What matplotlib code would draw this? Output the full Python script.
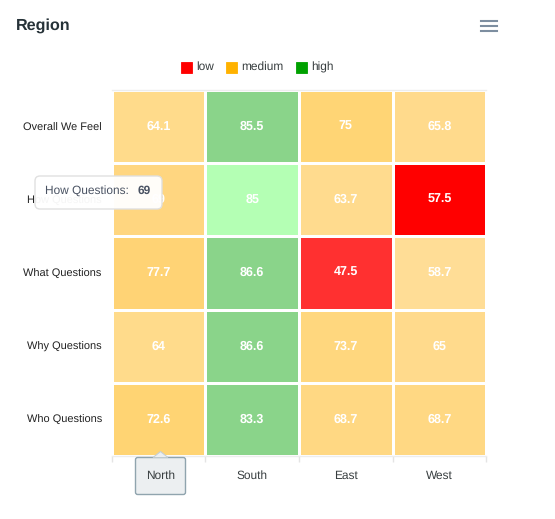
import numpy as np
import matplotlib
matplotlib.use('Agg')
import matplotlib.pyplot as plt
from matplotlib.colors import to_rgb
from matplotlib.lines import Line2D
from matplotlib.patches import FancyBboxPatch, Polygon, Rectangle

W, H = 555, 519

regions = ['North', 'South', 'East', 'West']
questions = ['Overall We Feel', 'How Questions', 'What Questions', 'Why Questions', 'Who Questions']
values = [
    ['64.1', '85.5', '75', '65.8'],
    ['69', '85', '63.7', '57.5'],
    ['77.7', '86.6', '47.5', '58.7'],
    ['64', '86.6', '73.7', '65'],
    ['72.6', '83.3', '68.7', '68.7'],
]
cell_colors = [
    ['#FFDB8B', '#8AD48A', '#FFD575', '#FFDA8C'],
    ['#FFD680', '#B4FFB4', '#FFDB8E', '#FF0000'],
    ['#FFD375', '#8AD48A', '#FF3030', '#FFDD96'],
    ['#FFDB8B', '#8AD48A', '#FFD77E', '#FFDA8C'],
    ['#FFD473', '#8AD48A', '#FFD883', '#FFD883'],
]
legend_names = ['low', 'medium', 'high']
legend_colors = ['#FF0000', '#FFB200', '#00A100']

plt.rcParams['font.family'] = ['Liberation Sans', 'DejaVu Sans']
plt.rcParams['text.hinting'] = 'none'


def fx(x):
    return x / W


def fy(y):
    return 1 - y / H


fig = plt.figure(figsize=(W / 100, H / 100), dpi=100)
ax = fig.add_axes([fx(111.5), fy(456), (486.5 - 111.5) / W, (456 - 90) / H])

rgb = np.array([[to_rgb(c) for c in row] for row in cell_colors])
ax.pcolormesh(np.arange(5), np.arange(6), rgb, edgecolors='white', linewidth=0.9)
ax.set_xlim(0, 4)
ax.set_ylim(5, 0)

for r, row in enumerate(values):
    for c, v in enumerate(row):
        ax.text(c + 0.5, r + 0.5, v, ha='center', va='center', color='white',
                fontsize=9, fontweight='bold')

for name, s in ax.spines.items():
    s.set_visible(name in ('bottom', 'top'))
    s.set_color('#EDEDED')
    s.set_linewidth(1)
ax.set_xticks(np.arange(5))
ax.set_xticklabels([])
ax.set_xticks(np.arange(4) + 0.5, minor=True)
# the North label sits in the crosshair tooltip below
ax.set_xticklabels([''] + regions[1:], minor=True, fontsize=8.6, color='#373D3F')
ax.tick_params(axis='x', which='major', length=4, color='#E4E4E4', width=1)
ax.tick_params(axis='x', which='minor', length=0, pad=10.5)
ax.set_yticks(np.arange(5) + 0.5)
ax.set_yticklabels(questions, fontsize=7.9, color='#222222')
ax.tick_params(axis='y', length=0, pad=7)

fig.text(fx(16), fy(26), 'Region', fontsize=11.6, fontweight='bold', color='#263238',
         ha='left', va='center')

# hamburger menu
for y in (21, 26, 31):
    fig.add_artist(Line2D([fx(481), fx(497)], [fy(y), fy(y)], color='#7D8EA0', linewidth=1.5))

# legend
for x, name, color in zip((181, 226, 296), legend_names, legend_colors):
    fig.add_artist(Rectangle((fx(x), fy(73)), 11 / W, 11 / H, facecolor=color, edgecolor=color,
                             linewidth=0.6, transform=fig.transFigure))
    fig.text(fx(x + 15), fy(67), name, fontsize=8.6, color='#373D3F', ha='left', va='center')

# hover tooltip over the How Questions row
fig.add_artist(FancyBboxPatch((fx(35), fy(209)), 127 / W, 33 / H, boxstyle='round,pad=0,rounding_size=0.009',
                              facecolor='white', edgecolor='#DFDFDF', alpha=0.96, linewidth=1,
                              transform=fig.transFigure, zorder=5, mutation_aspect=W / H))
fig.text(fx(45), fy(190.5), 'How Questions:', fontsize=8.6, color='#4A5363', ha='left', va='center', zorder=6)
fig.text(fx(138), fy(190.5), '69', fontsize=8.6, color='#4A5363', fontweight='bold', ha='left', va='center', zorder=6)

# x axis tooltip under North
fig.add_artist(FancyBboxPatch((fx(135.5), fy(494.5)), 50 / W, 37 / H, boxstyle='round,pad=0,rounding_size=0.004',
                              facecolor='#ECEFF1', edgecolor='#90A4AE', linewidth=1,
                              transform=fig.transFigure, zorder=5, mutation_aspect=W / H))
fig.add_artist(Polygon([(fx(153), fy(457.5)), (fx(160.5), fy(451.5)), (fx(168), fy(457.5))], closed=False,
                       facecolor='#ECEFF1', edgecolor='#C5CFD5', linewidth=0.8,
                       transform=fig.transFigure, zorder=6))
fig.text(fx(160.5), fy(476), regions[0], fontsize=8.6, color='#373D3F', ha='center', va='center', zorder=7)

fig.savefig('out.png', dpi=100)
